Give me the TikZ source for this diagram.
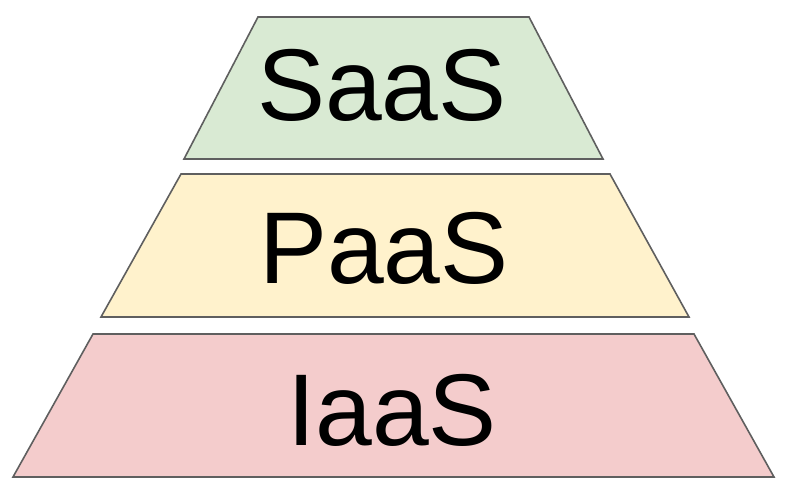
\documentclass[tikz,border=0pt]{standalone}
\usepackage{fontspec}
\setmainfont{Liberation Sans}
\definecolor{saasgreen}{HTML}{D9EAD3}
\definecolor{paasyellow}{HTML}{FFF2CC}
\definecolor{iaaspink}{HTML}{F4CCCC}
\definecolor{edgegray}{HTML}{5F5F5F}
\begin{document}
\begin{tikzpicture}[
        x=1pt, y=-1pt,
        layer/.style={draw=edgegray, line width=1.6pt, line join=miter},
        tag/.style={font=\fontsize{102}{102}\selectfont, text=black, inner sep=0pt}
    ]
        \useasboundingbox (0,0) rectangle (788,492);

        % three layers, top to bottom
        \filldraw[layer, fill=saasgreen] (258,17) -- (529,17) -- (603,159) -- (184,159) -- cycle;
        \filldraw[layer, fill=paasyellow] (181,174) -- (610,174) -- (689,317) -- (101,317) -- cycle;
        \filldraw[layer, fill=iaaspink] (93,334) -- (694,334) -- (774,477) -- (13,477) -- cycle;

        % labels
        \node[tag] (saas) at (382,85) {SaaS};
        \node[tag] (paas) at (384,248) {PaaS};
        \node[tag] (iaas) at (392,410) {IaaS};
    \end{tikzpicture}
\end{document}
